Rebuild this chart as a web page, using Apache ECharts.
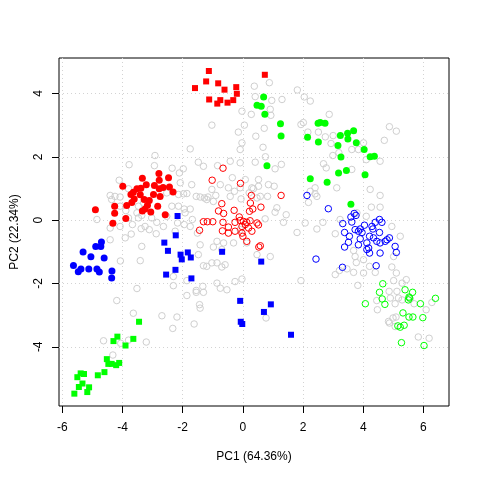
<!DOCTYPE html>
<html><head><meta charset="utf-8">
<script src="https://cdn.jsdelivr.net/npm/echarts@6/dist/echarts.min.js"></script>
<style>html,body{margin:0;padding:0;background:#fff}#c{width:480px;height:480px}</style>
</head><body><div id="c"></div>
<script>
const xTicks = [-6, -4, -2, 0, 2, 4, 6];
const yTicks = [-4, -2, 0, 2, 4];
const xTitle = 'PC1 (64.36%)';
const yTitle = 'PC2 (22.34%)';

const grayOpen = [
[0.38,4.23],[-0.03,3.44],[0.28,3.34],[-1.03,3.00],[-0.15,2.78],[0.05,3.00],[-0.03,2.44],[-0.09,2.23],[-1.75,2.25],[-2.92,2.04],
[-3.78,1.75],[-2.94,1.72],[-2.35,1.64],[-1.98,1.62],[-2.11,1.49],[-1.48,1.83],[-1.31,1.70],[-0.84,1.72],[-0.35,1.34],[0.08,1.28],
[-0.09,1.02],[0.35,0.99],[0.52,1.07],[0.21,0.86],[-1.70,1.12],[-2.08,1.18],[-1.97,0.83],[-1.86,0.84],[-1.55,0.75],[-1.42,0.73],
[-1.28,0.70],[-1.16,0.73],[-0.90,0.78],[-0.42,0.75],[-0.28,0.91],[-0.06,0.67],[-4.11,1.26],[-4.41,0.78],[-4.25,0.75],[-4.08,0.73],
[-4.36,0.65],[-4.08,0.44],[-3.47,0.44],[-3.89,0.30],[-3.52,0.23],[-3.36,0.15],[-3.80,0.07],[-3.47,0.07],[-3.03,0.07],[-2.86,-0.07],
[-3.67,-0.14],[-3.25,-0.20],[-3.38,-0.27],[-3.11,-0.30],[-2.88,-0.43],[-3.71,-0.44],[-4.08,-0.20],[-4.85,0.02],[-4.41,-0.25],[-2.36,0.44],
[-2.14,0.44],[-1.95,0.35],[-1.92,0.23],[-1.68,0.02],[-2.17,-0.09],[-2.64,-0.20],[-2.25,-0.35],[-1.75,-0.20],[-2.53,0.12],[-3.30,0.54],
[-3.80,0.99],[-2.53,0.86],[-2.14,0.81],
[0.88,4.34],[1.81,4.11],[2.04,3.89],[2.24,3.76],[1.30,3.81],[0.96,3.78],[0.41,3.90],[0.91,3.50],[0.93,3.31],[0.71,2.90],
[0.43,2.65],[0.67,2.30],[0.75,2.00],[1.28,1.76],[1.07,1.62],[0.52,1.28],[0.30,1.02],[1.04,1.07],[1.93,3.02],[2.01,3.08],
[2.16,2.78],[2.51,2.78],[2.74,2.63],[2.87,3.34],[3.00,2.67],[2.93,2.42],[3.19,2.13],[2.99,2.04],[3.62,2.23],[3.84,2.23],
[4.01,2.44],[4.10,1.91],[4.56,1.86],[4.70,2.52],[4.87,2.95],[5.10,2.81],[2.68,1.78],[2.77,1.65],[3.62,1.60],[3.12,1.02],
[2.24,0.91],[2.40,1.02],[2.40,0.83],[2.46,0.75],[2.18,0.56],[4.56,0.78],[4.56,0.41],[4.27,0.41],[4.10,0.12],[3.79,0.23],
[3.23,0.02],[2.66,-0.07],[2.46,-0.28],[2.07,-0.09],[1.80,-0.39],[1.35,-0.07],[1.44,0.17],[1.07,0.25],[0.74,0.04],[0.82,0.75],[0.58,0.75],
[3.07,-0.43],[1.93,-1.91],[3.82,-2.06],[3.21,-1.59],[3.46,-1.54],[3.77,-1.34],[3.73,-1.15],[4.01,-1.67],[4.21,-1.46],[4.95,-1.48],
[5.01,-1.15],[5.10,-1.67],[4.45,-2.54],[4.47,-2.83],[4.84,-3.20],[4.99,-3.09],[5.09,-3.06],[5.06,-3.36],[4.87,-3.25],[5.17,-2.46],
[5.29,-2.52],[5.43,-1.88],[5.01,-1.91],[5.29,-1.99],[4.90,-2.46],[5.06,-2.64],[5.56,-2.49],[6.09,-2.83],[6.28,-2.60],[5.83,-3.69],
[6.19,-3.73],[0.77,-3.09],[4.86,-2.25],[5.12,-2.25],[5.69,-2.64],
[-4.41,-0.62],[-3.91,-0.56],[-3.36,-0.83],[-4.07,-1.29],[-3.41,-1.28],[-1.51,-0.41],[-1.42,-0.78],[-0.86,-0.67],[-0.64,-0.72],[-0.70,-0.93],
[-1.03,-1.35],[-0.86,-1.35],[-1.31,-1.44],[-1.20,-1.46],[-0.70,-1.48],[-0.59,-1.41],[-0.26,-1.94],[-0.03,-1.86],[-0.86,-1.99],[-0.75,-2.15],
[-0.53,-2.20],[-1.86,-1.91],[-2.31,-1.78],[-1.55,-2.22],[-1.55,-2.28],[-1.33,-2.09],[-1.31,-2.28],[-1.86,-2.38],[-2.31,-2.07],[-3.52,-2.16],
[-4.19,-2.54],[-3.64,-2.94],[-2.69,-3.02],[-2.19,-3.06],[-1.44,-2.67],[-1.42,-2.78],[-1.62,-3.28],[-2.33,-3.42],[-4.63,-3.81],[-4.06,-3.89],
[-3.80,-3.79],[-3.21,-3.85],[-4.32,-4.26],[-0.09,-0.30],[0.13,-0.72],
[-0.42,1.86],[-0.09,1.81],[0.41,1.83],[-1.03,0.97],[-0.75,1.12],[-0.48,1.02],[0.85,1.12],[-1.20,0.65],[-0.98,0.59],[0.47,0.70],
[1.13,0.39],[-1.75,0.35],[-1.95,-0.14],[-0.31,-0.72],[-0.98,-0.85],[-1.48,-1.09],[0.47,-1.09],[0.91,-1.15],
[4.23,0.97],[4.95,-0.20],[5.23,-0.51],[3.68,-0.96],[4.01,-1.25],[3.07,-1.72],[4.40,-1.65],[3.68,-1.65]
];

const redOpen = [
[-0.66,1.64],[-1.02,1.26],[-0.08,1.16],[1.27,0.78],[0.28,0.78],[0.25,0.54],[-0.70,0.52],[0.60,0.41],[-0.29,0.31],[-0.81,0.29],
[-0.64,0.21],[0.22,0.28],[-1.31,-0.05],[-1.18,-0.05],[-1.00,-0.05],[-0.66,-0.07],[-0.26,-0.07],[-0.09,-0.01],[0.02,-0.04],[0.13,-0.07],
[0.24,-0.02],[0.47,-0.09],[0.52,-0.15],[-1.44,-0.32],[-0.68,-0.34],[-0.48,-0.41],[-0.48,-0.22],[-0.03,-0.20],[0.08,-0.14],[0.19,-0.25],
[0.30,-0.35],[-0.03,-0.41],[0.00,-0.51],[0.13,-0.67],[-0.26,-0.35],[0.58,-0.81],[0.53,-0.85],[-0.12,0.10],[0.33,0.35]
];

const blueOpen = [
[2.13,0.78],[2.84,0.36],[3.70,0.21],[3.76,0.15],[3.59,0.10],[3.62,-0.06],[3.32,-0.11],[4.04,-0.16],[4.54,0.02],[4.62,-0.07],
[4.40,-0.07],[4.29,-0.20],[4.32,-0.28],[3.90,-0.28],[3.84,-0.35],[3.73,-0.30],[3.96,-0.39],[3.38,-0.39],[3.54,-0.51],[3.51,-0.70],
[3.38,-0.85],[4.21,-0.51],[4.34,-0.56],[4.54,-0.39],[4.79,-0.62],[4.87,-0.56],[4.73,-0.67],[4.56,-0.72],[4.12,-0.72],[4.18,-0.88],
[4.12,-0.93],[4.21,-1.04],[4.56,-1.04],[5.06,-0.83],[5.10,-1.02],[4.45,-0.67],[2.43,-1.23],[3.31,-1.49],[4.43,-1.44],[3.90,-0.59],
[3.84,-0.78]
];

const greenOpen = [
[4.65,-2.01],[4.54,-2.28],[4.63,-2.49],[4.72,-2.66],[4.07,-2.64],[5.39,-2.20],[5.64,-2.28],[5.52,-2.43],[5.50,-2.52],[5.54,-2.46],
[5.90,-2.64],[6.40,-2.47],[5.32,-2.93],[5.52,-3.06],[5.65,-3.06],[5.98,-3.08],[5.15,-3.34],[5.23,-3.38],[5.36,-3.32],[5.27,-3.87],
[6.02,-3.96]
];

const redFilled = [
[-2.79,1.47],[-3.34,1.32],[-2.78,1.26],[-2.47,1.34],[-3.99,1.07],[-3.21,1.12],[-2.94,1.09],[-2.78,0.99],[-3.52,0.99],[-3.39,1.01],
[-2.44,1.05],[-2.32,0.89],[-2.65,1.03],[-3.64,0.88],[-3.72,0.81],[-3.41,0.80],[-2.97,0.81],[-2.75,0.75],[-3.61,0.67],[-3.28,0.65],
[-3.11,0.62],[-3.69,0.56],[-3.86,0.46],[-3.17,0.47],[-2.83,0.44],[-3.25,0.35],[-3.34,0.29],[-3.06,0.26],[-4.90,0.33],[-4.26,0.44],
[-4.26,0.22],[-3.89,0.05],[-2.58,0.17],[-4.32,-0.10]
];

const greenFilled = [
[0.69,3.89],[0.47,3.63],[0.61,3.60],[0.73,3.34],[1.25,3.04],[1.27,2.66],[0.80,1.72],[2.15,2.62],[2.50,3.06],[2.57,3.08],
[2.73,3.06],[2.51,2.47],[3.24,2.67],[3.48,2.74],[3.68,2.82],[3.49,2.56],[3.77,2.44],[3.16,2.36],[4.03,2.23],[3.26,1.99],
[4.23,2.00],[4.37,2.02],[3.18,1.49],[3.44,1.57],[4.06,1.43],[2.24,1.31],[2.80,1.20],[3.59,0.50]
];

const blueFilled = [
[-4.70,-0.69],[-4.89,-0.83],[-4.72,-0.83],[-5.31,-1.01],[-5.05,-1.16],[-4.61,-1.20],[-5.63,-1.43],[-5.47,-1.63],[-5.38,-1.54],[-5.12,-1.54],
[-4.85,-1.54],[-4.77,-1.64],[-4.35,-1.61],[-4.36,-1.83]
];

const redSquare = [
[-1.13,4.71],[-1.22,4.38],[-0.82,4.32],[-1.59,4.17],[-0.61,4.12],[-0.22,4.20],[-0.20,3.99],[-1.12,3.81],[-0.75,3.79],[-0.85,3.68],
[-0.51,3.71],[-0.32,3.79],[0.73,4.59]
];

const blueSquare = [
[-2.17,0.13],[-2.23,-0.48],[-2.61,-0.71],[-2.49,-0.97],[-2.07,-1.09],[-1.83,-1.02],[-1.73,-1.18],[-2.03,-1.24],[-2.24,-1.57],[-2.55,-1.72],
[-1.71,-1.84],[-0.69,-1.00],[-0.09,-2.55],[-0.07,-3.21],[-0.02,-3.28],[0.61,-1.31],[0.93,-2.66],[0.70,-2.90],[1.60,-3.62]
];

const greenSquare = [
[-3.45,-3.21],[-4.17,-3.68],[-4.30,-3.82],[-3.64,-3.75],[-3.90,-3.96],[-4.52,-4.39],[-4.47,-4.54],[-4.36,-4.54],[-4.21,-4.58],[-4.11,-4.51],
[-4.60,-4.80],[-4.82,-4.90],[-5.39,-4.84],[-5.28,-4.86],[-5.50,-4.96],[-5.33,-5.16],[-5.45,-5.27],[-5.11,-5.28],[-5.17,-5.43],[-5.60,-5.48]
];

const RED = '#FF0000', GREEN = '#00FF00', BLUE = '#0000FF', GRAY = '#CFCFCF';
const FONT = 'Liberation Sans, Arial, Helvetica, sans-serif';

function sc(data, symbol, size, color, hollow) {
  return {
    type: 'scatter', data: data, symbol: symbol, symbolSize: size, silent: true,
    itemStyle: hollow ? { color: 'rgba(0,0,0,0)', borderColor: color, borderWidth: 1, opacity: 1 }
                      : { color: color, borderWidth: 0, opacity: 1 },
    emphasis: { disabled: true }
  };
}

const chart = echarts.init(document.getElementById('c'), null, { renderer: 'canvas' });
const labelStyle = { color: '#000', fontSize: 12, fontFamily: FONT };
chart.setOption({
  animation: false,
  backgroundColor: '#fff',
  grid: { left: 59, right: 31, top: 58, bottom: 74, show: true, borderColor: '#000', borderWidth: 1,
          backgroundColor: 'rgba(0,0,0,0)', containLabel: false, outerBoundsMode: 'none' },
  xAxis: {
    type: 'value', min: -6.11, max: 6.85, splitNumber: 6,
    name: xTitle, nameLocation: 'middle', nameGap: 45, nameTextStyle: labelStyle,
    axisLine: { show: false, onZero: false },
    axisTick: { show: true, customValues: xTicks, length: 7, inside: false, lineStyle: { color: '#000', width: 1 } },
    axisLabel: Object.assign({ customValues: xTicks, margin: 16, formatter: v => String(v) }, labelStyle),
    splitLine: { show: true, lineStyle: { color: '#D3D3D3', width: 1, type: [1, 3] } }
  },
  yAxis: {
    type: 'value', min: -5.87, max: 5.12, splitNumber: 5,
    name: yTitle, nameLocation: 'middle', nameGap: 38, nameTextStyle: labelStyle,
    axisLine: { show: false, onZero: false },
    axisTick: { show: true, customValues: yTicks, length: 7, inside: false, lineStyle: { color: '#000', width: 1 } },
    axisLabel: Object.assign({ customValues: yTicks, margin: 14, rotate: 90, formatter: v => String(v) }, labelStyle),
    splitLine: { show: true, lineStyle: { color: '#D3D3D3', width: 1, type: [1, 3] } }
  },
  series: [
    sc(grayOpen, 'circle', 6.5, GRAY, true),
    sc(redOpen, 'circle', 6.5, RED, true),
    sc(blueOpen, 'circle', 6.5, BLUE, true),
    sc(greenOpen, 'circle', 6.5, GREEN, true),
    sc(redFilled, 'circle', 7, RED, false),
    sc(greenFilled, 'circle', 7, GREEN, false),
    sc(blueFilled, 'circle', 7, BLUE, false),
    sc(redSquare, 'rect', 6, RED, false),
    sc(blueSquare, 'rect', 6, BLUE, false),
    sc(greenSquare, 'rect', 6, GREEN, false)
  ]
});
</script>
</body></html>
